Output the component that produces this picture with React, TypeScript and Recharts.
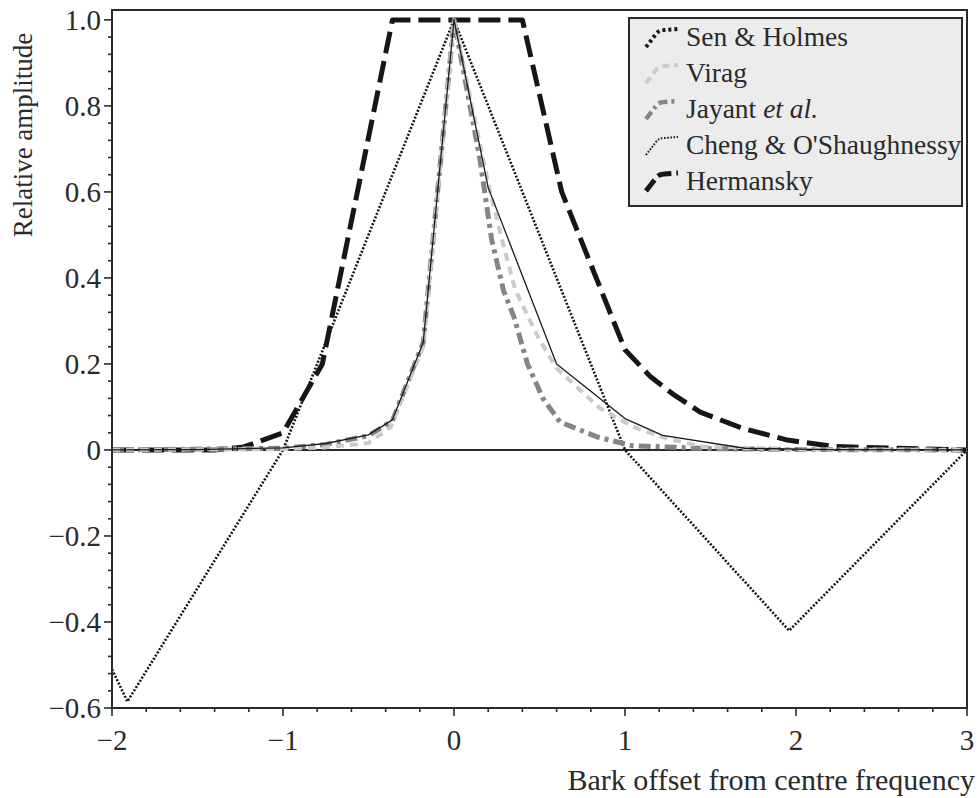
import React from 'react';
import { LineChart, Line, XAxis, YAxis, ReferenceLine, ReferenceArea, Legend } from 'recharts';

// values (x = Bark offset, y = relative amplitude)
const SEN_X = [-2, -1.5, -1.0, -0.75, -0.5, -0.36, -0.18, 0, 0.2, 0.6, 1.0, 1.22, 1.7, 2.2, 3];
const SEN_Y = [0, 0.001, 0.005, 0.015, 0.035, 0.07, 0.25, 1, 0.61, 0.2, 0.073, 0.034, 0.004, 0.001, 0];

const VIRAG_X = [-2, -1.0, -0.75, -0.5, -0.37, -0.18, 0, 0.2, 0.28, 0.36, 0.5, 0.6, 0.85, 1.05, 1.25, 1.45, 2, 3];
const VIRAG_Y = [0, 0.002, 0.006, 0.016, 0.053, 0.24, 1, 0.62, 0.49, 0.37, 0.256, 0.19, 0.098, 0.053, 0.026, 0.008, 0.001, 0];

const JAYANT_X = [-2, -1.0, -0.75, -0.5, -0.36, -0.18, 0, 0.15, 0.22, 0.29, 0.35, 0.43, 0.52, 0.62, 0.84, 1.04, 1.5, 2, 3];
const JAYANT_Y = [0, 0.004, 0.013, 0.033, 0.068, 0.25, 1, 0.68, 0.49, 0.37, 0.31, 0.2, 0.12, 0.065, 0.03, 0.01, 0.003, 0.001, 0];

const CHENG_X = [-2, -1.91, -1.0, 0, 1.0, 1.96, 3];
const CHENG_Y = [-0.51, -0.585, 0, 1, 0, -0.42, 0];

const HERM_X = [-2, -1.4, -1.23, -1.0, -0.77, -0.36, 0.4, 0.63, 1.0, 1.15, 1.28, 1.44, 1.69, 1.95, 2.22, 2.6, 3];
const HERM_Y = [0, 0, 0.007, 0.04, 0.2, 1, 1, 0.6, 0.233, 0.17, 0.13, 0.088, 0.05, 0.023, 0.008, 0.004, 0];

const X_MAJOR_STEP = 1;
const Y_MAJOR_STEP = 0.2;
const X_TICKS = Array.from({ length: 26 }, (_, i) => +(-2 + i * 0.2).toFixed(1));
const Y_TICKS = Array.from({ length: 41 }, (_, i) => +(-0.6 + i * 0.04).toFixed(2));
const Y_TOP = 1.023;

const FONT = '"Liberation Serif"';
const INK = '#2a2a2a';

const toPoints = (xs: number[], ys: number[]) => xs.map((x, i) => ({ x, y: ys[i] }));

const SERIES = [
  { key: 'herm', name: 'Hermansky', data: toPoints(HERM_X, HERM_Y), stroke: '#161616', width: 5, dash: '22 8' },
  { key: 'cheng', name: "Cheng & O'Shaughnessy", data: toPoints(CHENG_X, CHENG_Y), stroke: '#161616', width: 2.6, dash: '2 1.7' },
  { key: 'jayant', name: 'Jayant', data: toPoints(JAYANT_X, JAYANT_Y), stroke: '#858585', width: 5, dash: '12 5 4 5' },
  { key: 'virag', name: 'Virag', data: toPoints(VIRAG_X, VIRAG_Y), stroke: '#cbcbcb', width: 4, dash: '8 6' },
  { key: 'sen', name: 'Sen & Holmes', data: toPoints(SEN_X, SEN_Y), stroke: '#1a1a1a', width: 1.3, dash: undefined },
];

// legend rows, in the reference's order, with their icon styles
const LEGEND_ROWS = [
  { label: 'Sen & Holmes', stroke: '#161616', width: 4, dash: '3 3' },
  { label: 'Virag', stroke: '#cbcbcb', width: 4, dash: '7 5' },
  { label: 'Jayant', italic: 'et al.', stroke: '#858585', width: 4.5, dash: '9 4 3 4' },
  { label: "Cheng & O'Shaughnessy", stroke: '#1a1a1a', width: 2, dash: '1.6 1.6' },
  { label: 'Hermansky', stroke: '#161616', width: 5, dash: '14 5' },
];

const isMajor = (v: number, step: number) => Math.abs(v / step - Math.round(v / step)) < 1e-6;
const fmt = (v: number, digits: number) => (v === 0 ? '0' : v.toFixed(digits).replace('-', '\u2212'));

const YTick = (props: any) => {
  const { x, y, payload } = props;
  const v = payload.value;
  const major = isMajor(v, Y_MAJOR_STEP);
  return (
    <g>
      <line x1={x} x2={x - (major ? 8 : 4)} y1={y} y2={y} stroke={INK} strokeWidth={1.6} />
      {major && (
        <text x={x - 11} y={y} dy="0.36em" textAnchor="end" fontFamily={FONT} fontSize={29} fill={INK}>
          {fmt(v, 1)}
        </text>
      )}
    </g>
  );
};

const XTick = (props: any) => {
  const { x, y, payload } = props;
  const v = payload.value;
  const major = isMajor(v, X_MAJOR_STEP);
  return (
    <g>
      <line x1={x} x2={x} y1={y} y2={y + (major ? 8 : 4)} stroke={INK} strokeWidth={1.6} />
      {major && (
        <text x={x} y={y + 42} textAnchor="middle" fontFamily={FONT} fontSize={29} fill={INK}>
          {fmt(v, 0)}
        </text>
      )}
    </g>
  );
};

const renderLegend = () => (
  <div
    style={{
      width: 335,
      height: 190,
      boxSizing: 'border-box',
      background: '#ececec',
      border: `2px solid ${INK}`,
      fontFamily: FONT,
      fontSize: 27.5,
      color: INK,
    }}
  >
    {LEGEND_ROWS.map((r) => (
      <div key={r.label} style={{ height: 36, display: 'flex', alignItems: 'center' }}>
        <svg width={56} height={30} style={{ flex: 'none' }}>
          <path
            d="M16 25 L26 12 Q29 8 34 8 L48 7"
            fill="none"
            stroke={r.stroke}
            strokeWidth={r.width}
            strokeDasharray={r.dash}
          />
        </svg>
        <span style={{ whiteSpace: 'nowrap', lineHeight: 1 }}>
          {r.label}
          {r.italic && <i> {r.italic}</i>}
        </span>
      </div>
    ))}
  </div>
);

export default function App() {
  return (
    <div style={{ position: 'absolute', left: 0, top: 0, width: 980, height: 798, background: '#fff' }}>
      <LineChart width={980} height={798} margin={{ top: 10, right: 13, bottom: 30, left: 12 }}>
        <XAxis
          dataKey="x"
          type="number"
          domain={[-2, 3]}
          ticks={X_TICKS}
          interval={0}
          allowDataOverflow
          height={60}
          tickLine={false}
          tickSize={0}
          tickMargin={0}
          axisLine={{ stroke: INK, strokeWidth: 2 }}
          tick={<XTick />}
        />
        <YAxis
          type="number"
          domain={[-0.6, Y_TOP]}
          ticks={Y_TICKS}
          interval={0}
          allowDataOverflow
          width={100}
          tickLine={false}
          tickSize={0}
          tickMargin={0}
          axisLine={{ stroke: INK, strokeWidth: 2 }}
          tick={<YTick />}
        />
        <ReferenceArea x1={-2} x2={3} y1={-0.6} y2={Y_TOP} fill="none" stroke={INK} strokeWidth={2} />
        <ReferenceLine y={0} stroke={INK} strokeWidth={2} />
        {SERIES.map((s) => (
          <Line
            key={s.key}
            name={s.name}
            data={s.data}
            dataKey="y"
            type="linear"
            stroke={s.stroke}
            strokeWidth={s.width}
            strokeDasharray={s.dash}
            strokeLinejoin="round"
            dot={false}
            activeDot={false}
            isAnimationActive={false}
          />
        ))}
        <Legend
          layout="vertical"
          align="center"
          verticalAlign="middle"
          wrapperStyle={{ position: 'absolute', left: 628, top: 17, width: 335, height: 190 }}
          content={renderLegend}
        />
      </LineChart>
      <svg
        width={980}
        height={798}
        style={{ position: 'absolute', left: 0, top: 0, pointerEvents: 'none' }}
      >
        <text
          transform="translate(32,135) rotate(-90)"
          textAnchor="middle"
          fontFamily={FONT}
          fontSize={27}
          fill={INK}
        >
          Relative amplitude
        </text>
        <text x={975} y={790} textAnchor="end" fontFamily={FONT} fontSize={30} fill={INK}>
          Bark offset from centre frequency
        </text>
      </svg>
    </div>
  );
}
